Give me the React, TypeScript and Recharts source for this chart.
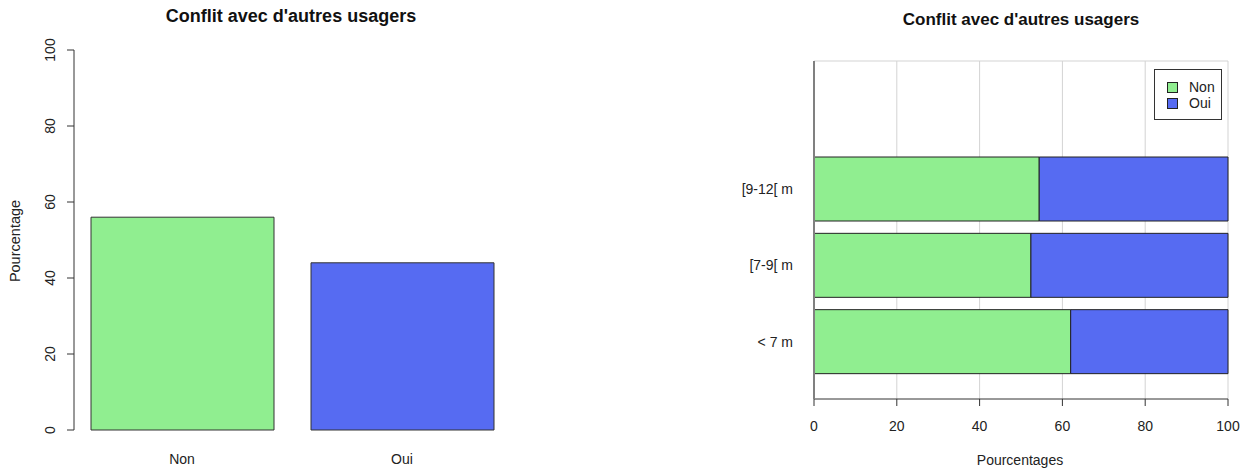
import React from 'react';
import { BarChart, Bar, Cell, XAxis, YAxis, CartesianGrid, Legend } from 'recharts';

const TITLE = "Conflit avec d'autres usagers";

// global answer
const answerCats = ['Non', 'Oui'];
const answerPct = [56, 44];

// by boat length
const lengthCats = ['< 7 m', '[7-9[ m', '[9-12[ m'];
const nonPct = [62, 52.4, 54.4];
const ouiPct = [38, 47.6, 45.6];

const pctTicks = [0, 20, 40, 60, 80, 100];

const GREEN = '#90ee90';
const BLUE = '#566bf2';
const barColors = [GREEN, BLUE];

const FONT = '"Liberation Sans", Arial, sans-serif';

const leftData = answerCats.map((c, i) => ({ name: c, value: answerPct[i] }));
const rightData = lengthCats.map((c, i) => ({ cat: c, non: nonPct[i], oui: ouiPct[i] }));

// rotated y tick labels, R style
const RotTick = (props: any) => {
  const { x, y, payload } = props;
  return (
    <text
      x={x}
      y={y}
      transform={`rotate(-90, ${x}, ${y})`}
      textAnchor="middle"
      fontSize={14}
      fill="#222"
    >
      {payload.value}
    </text>
  );
};

const LegendBox = (props: any) => {
  const { payload } = props;
  return (
    <div
      style={{
        border: '1px solid #333',
        padding: '9px 6px 8px 12px',
        background: '#fff',
        fontSize: 14,
        lineHeight: '16px',
        color: '#222',
      }}
    >
      {(payload || []).map((p: any) => (
        <div key={p.value} style={{ display: 'flex', alignItems: 'center', height: 16 }}>
          <span
            style={{
              width: 9,
              height: 9,
              background: p.color,
              border: '1px solid #222',
              marginRight: 11,
              display: 'inline-block',
            }}
          />
          <span>{p.value}</span>
        </div>
      ))}
    </div>
  );
};

const titleStyle: React.CSSProperties = {
  position: 'absolute',
  fontWeight: 'bold',
  color: '#111',
  whiteSpace: 'nowrap',
  transform: 'translate(-50%, -50%)',
};

export default function App() {
  return (
    <div
      style={{
        position: 'absolute',
        left: 0,
        top: 0,
        width: 1249,
        height: 470,
        background: '#fff',
        fontFamily: FONT,
        overflow: 'hidden',
      }}
    >
      {/* left: overall */}
      <div style={{ ...titleStyle, left: 291, top: 16, fontSize: 18 }}>{TITLE}</div>
      <div
        style={{
          position: 'absolute',
          left: 15,
          top: 241,
          fontSize: 14.5,
          color: '#222',
          whiteSpace: 'nowrap',
          transform: 'translate(-50%, -50%) rotate(-90deg)',
        }}
      >
        Pourcentage
      </div>
      <div style={{ position: 'absolute', left: 0, top: 0 }}>
        <BarChart width={520} height={470} data={leftData} margin={{ top: 50, right: 8, bottom: 0, left: 0 }}>
          <XAxis
            dataKey="name"
            height={40}
            padding={{ left: -2, right: 0 }}
            axisLine={false}
            tickLine={false}
            tickSize={0}
            tickMargin={24}
            tick={{ fontSize: 14, fill: '#222' }}
          />
          <YAxis
            width={74}
            domain={[0, 100]}
            ticks={pctTicks}
            tickSize={7}
            tickMargin={12}
            axisLine={{ stroke: '#333' }}
            tickLine={{ stroke: '#333' }}
            tick={<RotTick />}
          />
          <Bar dataKey="value" barSize={183} stroke="#333" strokeWidth={1} isAnimationActive={false}>
            {leftData.map((d, i) => (
              <Cell key={d.name} fill={barColors[i]} />
            ))}
          </Bar>
        </BarChart>
      </div>

      {/* right: by boat length */}
      <div style={{ ...titleStyle, left: 1021, top: 20, fontSize: 17 }}>{TITLE}</div>
      <div
        style={{
          position: 'absolute',
          left: 1020,
          top: 460,
          fontSize: 14,
          color: '#222',
          transform: 'translate(-50%, -50%)',
        }}
      >
        Pourcentages
      </div>
      <div style={{ position: 'absolute', left: 680, top: 0 }}>
        <BarChart
          width={569}
          height={470}
          data={rightData}
          layout="vertical"
          margin={{ top: 60, right: 21, bottom: 41, left: 0 }}
          barSize={64}
        >
          <CartesianGrid horizontal={false} stroke="#d3d3d3" />
          <XAxis
            type="number"
            domain={[0, 100]}
            ticks={pctTicks}
            height={30}
            tickSize={7}
            tickMargin={15}
            axisLine={{ stroke: '#333' }}
            tickLine={{ stroke: '#333' }}
            tick={{ fontSize: 14, fill: '#222' }}
          />
          <XAxis
            xAxisId="top"
            orientation="top"
            type="number"
            domain={[0, 100]}
            ticks={pctTicks}
            height={1}
            tick={false}
            tickLine={false}
            axisLine={{ stroke: '#d3d3d3' }}
          />
          <YAxis
            type="category"
            dataKey="cat"
            width={134}
            reversed
            padding={{ top: 90, bottom: 19 }}
            tickSize={0}
            tickMargin={21}
            axisLine={{ stroke: '#808080', strokeWidth: 2 }}
            tick={{ fontSize: 14, fill: '#222' }}
          />
          <Legend
            layout="horizontal"
            verticalAlign="middle"
            align="center"
            content={<LegendBox />}
            wrapperStyle={{ position: 'absolute', left: 474, top: 69, width: 'auto' }}
          />
          <Bar dataKey="non" name="Non" stackId="a" fill={GREEN} stroke="#222" isAnimationActive={false} />
          <Bar dataKey="oui" name="Oui" stackId="a" fill={BLUE} stroke="#222" isAnimationActive={false} />
        </BarChart>
      </div>
    </div>
  );
}
